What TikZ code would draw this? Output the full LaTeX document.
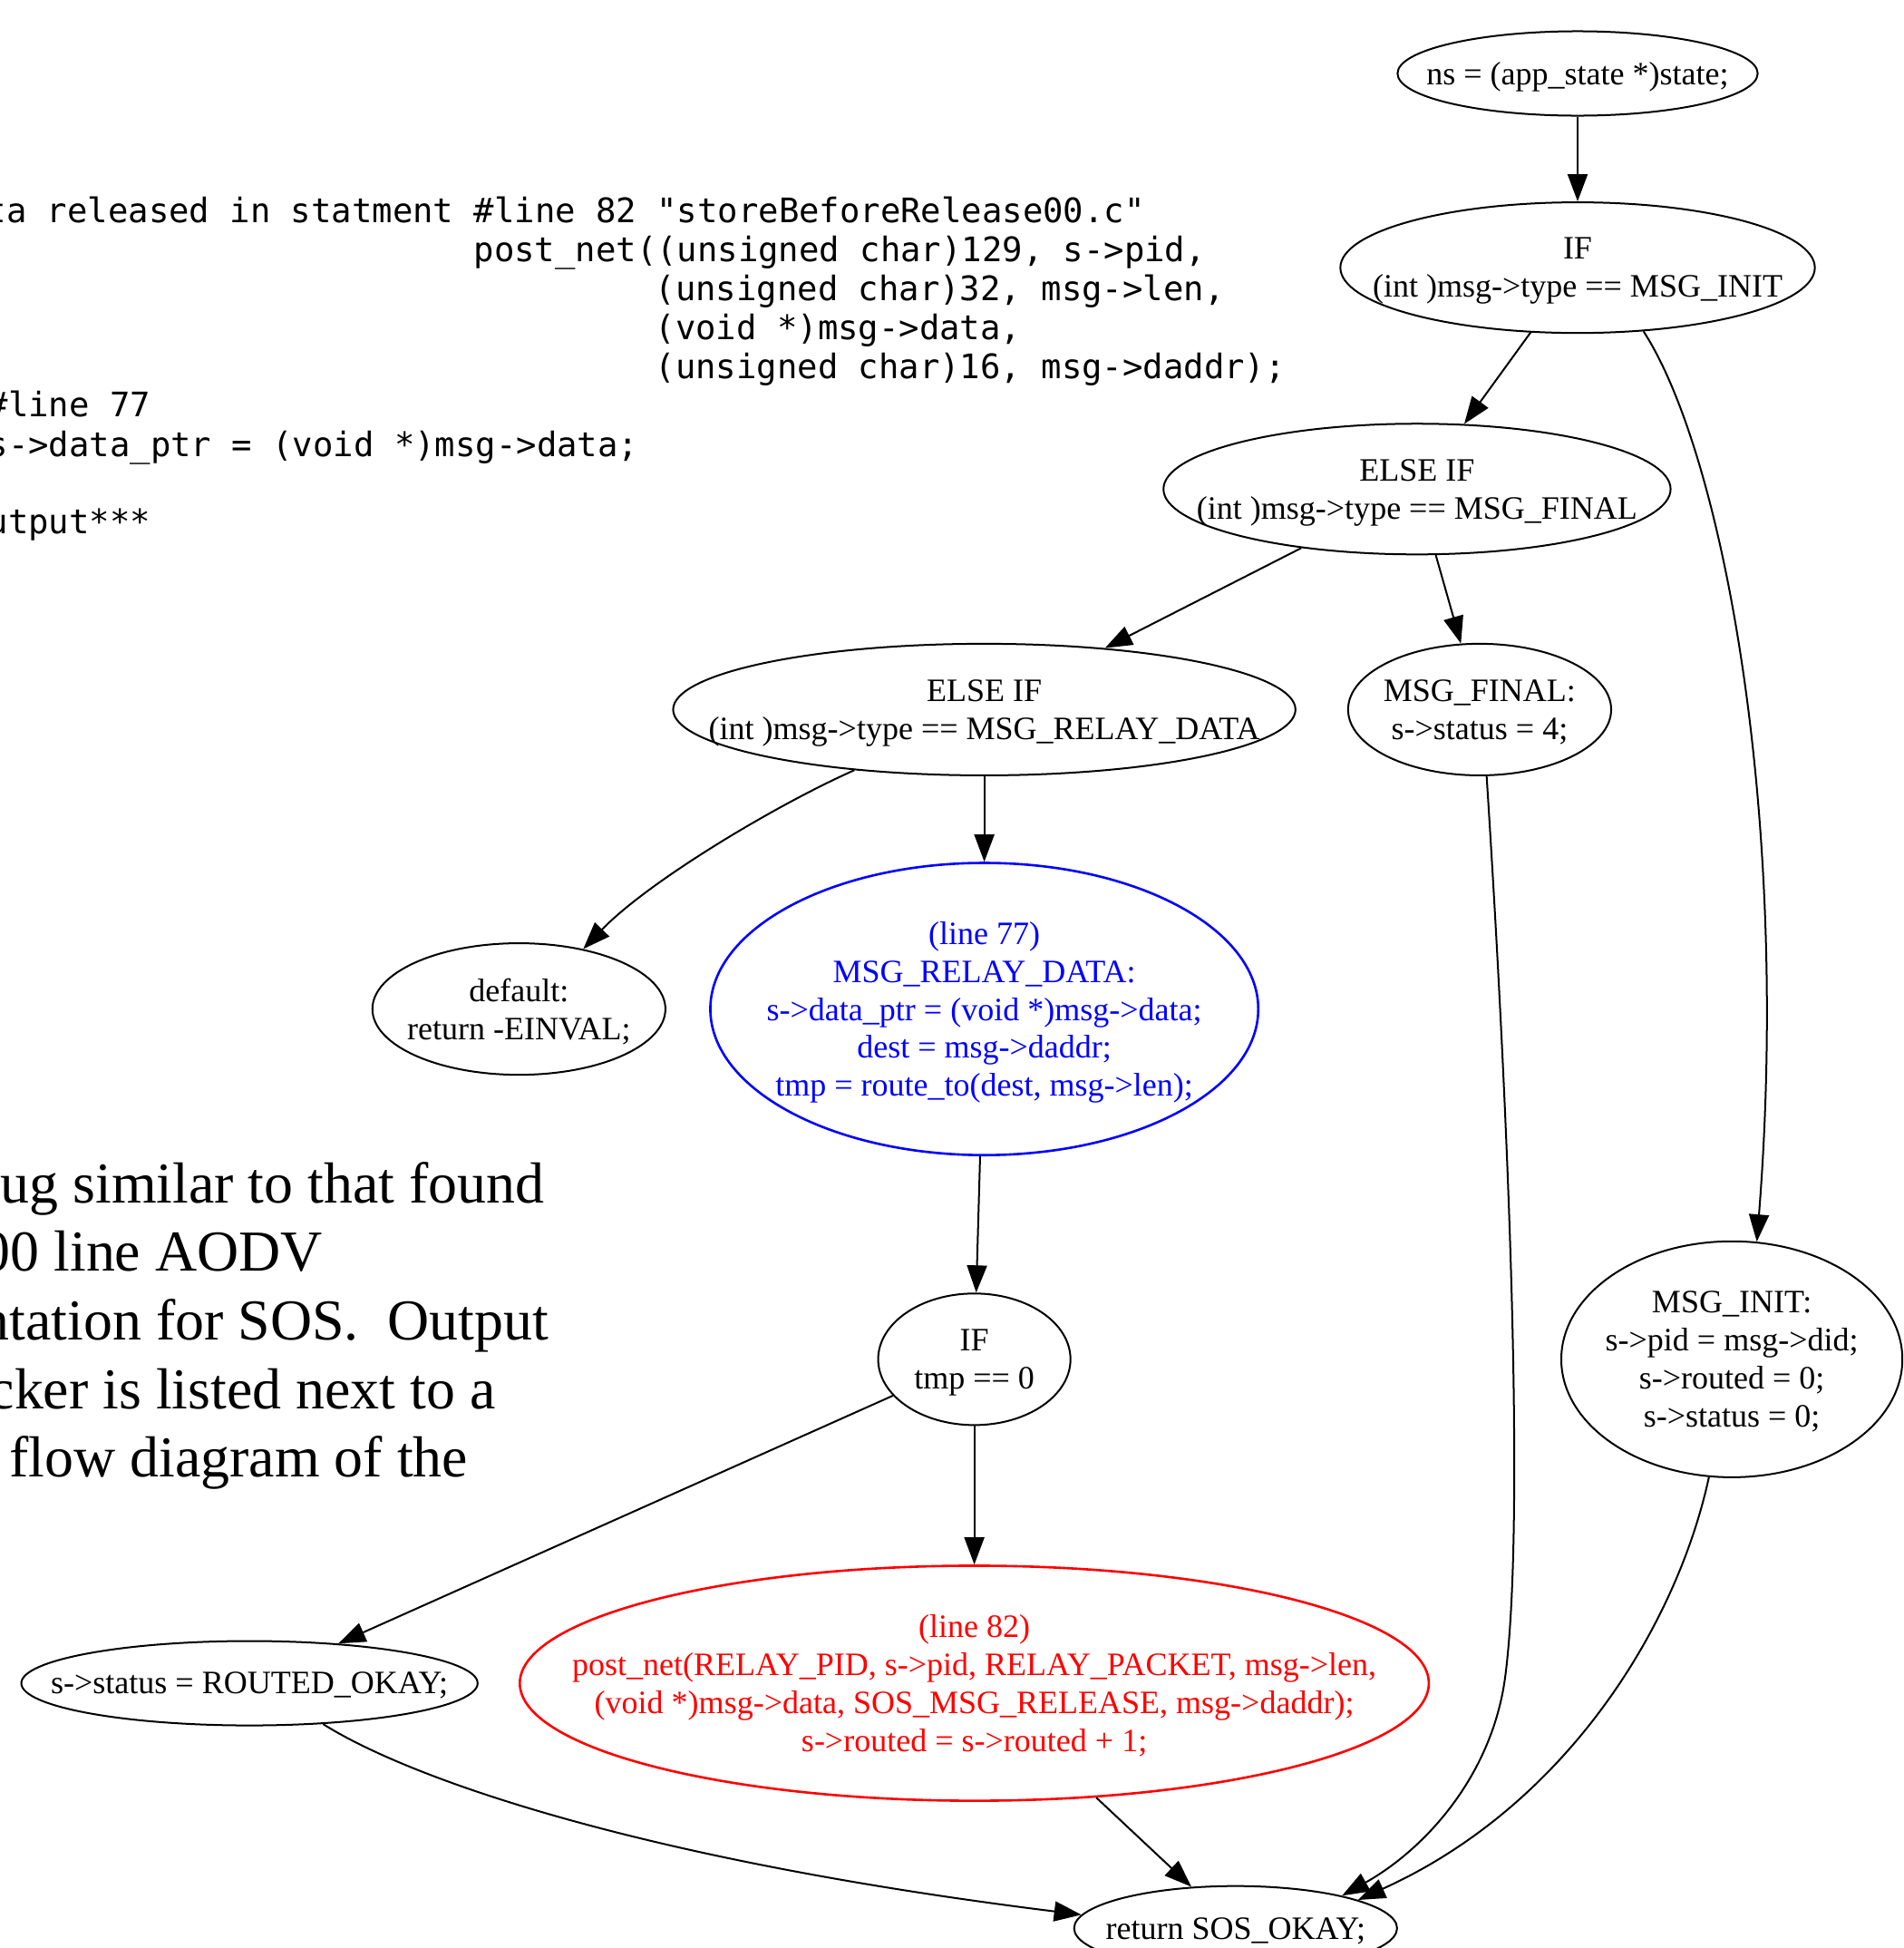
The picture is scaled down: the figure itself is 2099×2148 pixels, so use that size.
\documentclass[tikz,border=0pt]{standalone}
\usepackage{fontspec}
\setmainfont{Liberation Serif}
\newfontfamily\codefont{DejaVu Sans Mono}
\usetikzlibrary{shapes.geometric, arrows.meta}
\tikzstyle{Stmt} = [ellipse,
                    draw=black,
                    line width=0.02cm,
                    inner sep=-3cm,
                    text depth=0pt,
                    align=center,
                    font=\fontsize{10.24pt}{11.9pt}\selectfont]
\tikzstyle{Line77} = [Stmt,
                      draw=blue,
                      text=blue,
                      line width=0.026cm]
\tikzstyle{Line82} = [Stmt,
                      draw=red,
                      text=red,
                      line width=0.026cm]
\tikzstyle{Flow} = [draw=black,
                    line width=0.02cm,
                    -{Triangle[length=0.30cm, width=0.22cm]}]
\tikzstyle{Code} = [anchor=base west,
                    inner sep=0pt,
                    font=\codefont\fontsize{10.59pt}{12.2pt}\selectfont]
\tikzstyle{Prose} = [anchor=base west,
                     inner sep=0pt,
                     font=\fontsize{18.16pt}{21.6pt}\selectfont]

\begin{document}
\begin{tikzpicture}[x=0.01cm, y=-0.01cm]
        \useasboundingbox (0,0) rectangle (2099,2148);

        \node (Code1) [Code] at (-16,245) {ta released in statment \#line 82 "storeBeforeRelease00.c"};
        \node (Code2) [Code] at (522,288) {post\_net((unsigned char)129, s->pid,};
        \node (Code3) [Code] at (722,331) {(unsigned char)32, msg->len,};
        \node (Code4) [Code] at (722,374) {(void *)msg->data,};
        \node (Code5) [Code] at (722,417) {(unsigned char)16, msg->daddr);};
        \node (Code6) [Code] at (-14,459) {\#line 77};
        \node (Code7) [Code] at (-14,503) {s->data\_ptr = (void *)msg->data;};
        \node (Code8) [Code] at (-14,588) {utput***};

        \node (Prose1) [Prose] at (0,1326) {ug similar to that found};
        \node (Prose2) [Prose] at (-21,1401) {00 line AODV};
        \node (Prose3) [Prose] at (-22,1477) {ntation for SOS.\ \ Output};
        \node (Prose4) [Prose] at (-13,1553) {cker is listed next to a};
        \node (Prose5) [Prose] at (10,1628) {flow diagram of the};

        \node (ns) [Stmt, minimum width=3.97cm, minimum height=0.93cm] at (1740,81) {ns = (app\_state *)state;};
        \node (if1) [Stmt, minimum width=5.23cm, minimum height=1.44cm, below of=ns, yshift=-1.14cm] {IF\\(int )msg->type == MSG\_INIT};
        \node (elif1) [Stmt, minimum width=5.59cm, minimum height=1.44cm, below of=if1, xshift=-1.77cm, yshift=-1.44cm] {ELSE IF\\(int )msg->type == MSG\_FINAL};
        \node (elif2) [Stmt, minimum width=6.86cm, minimum height=1.45cm, below of=elif1, xshift=-4.77cm, yshift=-1.43cm] {ELSE IF\\(int )msg->type == MSG\_RELAY\_DATA};
        \node (final) [Stmt, minimum width=2.90cm, minimum height=1.45cm, right of=elif2, xshift=4.46cm] {MSG\_FINAL:\\s->status = 4;};
        \node (relay) [Line77, minimum width=6.04cm, minimum height=3.22cm, below of=elif2, yshift=-2.30cm] {(line 77)\\MSG\_RELAY\_DATA:\\s->data\_ptr = (void *)msg->data;\\dest = msg->daddr;\\tmp = route\_to(dest, msg->len);};
        \node (default) [Stmt, minimum width=3.23cm, minimum height=1.45cm, left of=relay, xshift=-4.13cm] {default:\\return -EINVAL;};
        \node (iftmp) [Stmt, minimum width=2.12cm, minimum height=1.45cm, below of=relay, xshift=-0.11cm, yshift=-2.86cm] {IF\\tmp == 0};
        \node (init) [Stmt, minimum width=3.76cm, minimum height=2.60cm, right of=iftmp, xshift=7.35cm] {MSG\_INIT:\\s->pid = msg->did;\\s->routed = 0;\\s->status = 0;};
        \node (post) [Line82, minimum width=10.02cm, minimum height=2.59cm, below of=iftmp, yshift=-2.57cm] {(line 82)\\post\_net(RELAY\_PID, s->pid, RELAY\_PACKET, msg->len,\\(void *)msg->data, SOS\_MSG\_RELEASE, msg->daddr);\\s->routed = s->routed + 1;};
        \node (routed) [Stmt, minimum width=5.03cm, minimum height=0.93cm, left of=post, xshift=-6.99cm] {s->status = ROUTED\_OKAY;};
        \node (ret) [Stmt, minimum width=3.56cm, minimum height=0.93cm, below of=post, xshift=2.88cm, yshift=-1.70cm] {return SOS\_OKAY;};

        \draw [Flow] (ns) -- (if1);
        \draw [Flow] (if1) -- (elif1);
        \draw [Flow] (if1.-44) .. controls (1900,500) and (1975,900) .. (init.78);
        \draw [Flow] (elif1) -- (elif2);
        \draw [Flow] (elif1) -- (final);
        \draw [Flow] (elif2.-155) .. controls (855,888) and (715,972) .. (default.43);
        \draw [Flow] (elif2) -- (relay);
        \draw [Flow] (relay) -- (iftmp);
        \draw [Flow] (iftmp) -- (routed);
        \draw [Flow] (iftmp) -- (post);
        \draw [Flow] (final.-84) .. controls (1665,1250) and (1682,1685) .. (1660,1850) .. controls (1645,1960) and (1570,2040) .. (ret.17);
        \draw [Flow] (init.-101) .. controls (1850,1790) and (1730,1990) .. (ret.13);
        \draw [Flow] (post) -- (ret);
        \draw [Flow] (routed.-29) .. controls (450,1960) and (700,2050) .. (ret.175);
    \end{tikzpicture}
\end{document}
